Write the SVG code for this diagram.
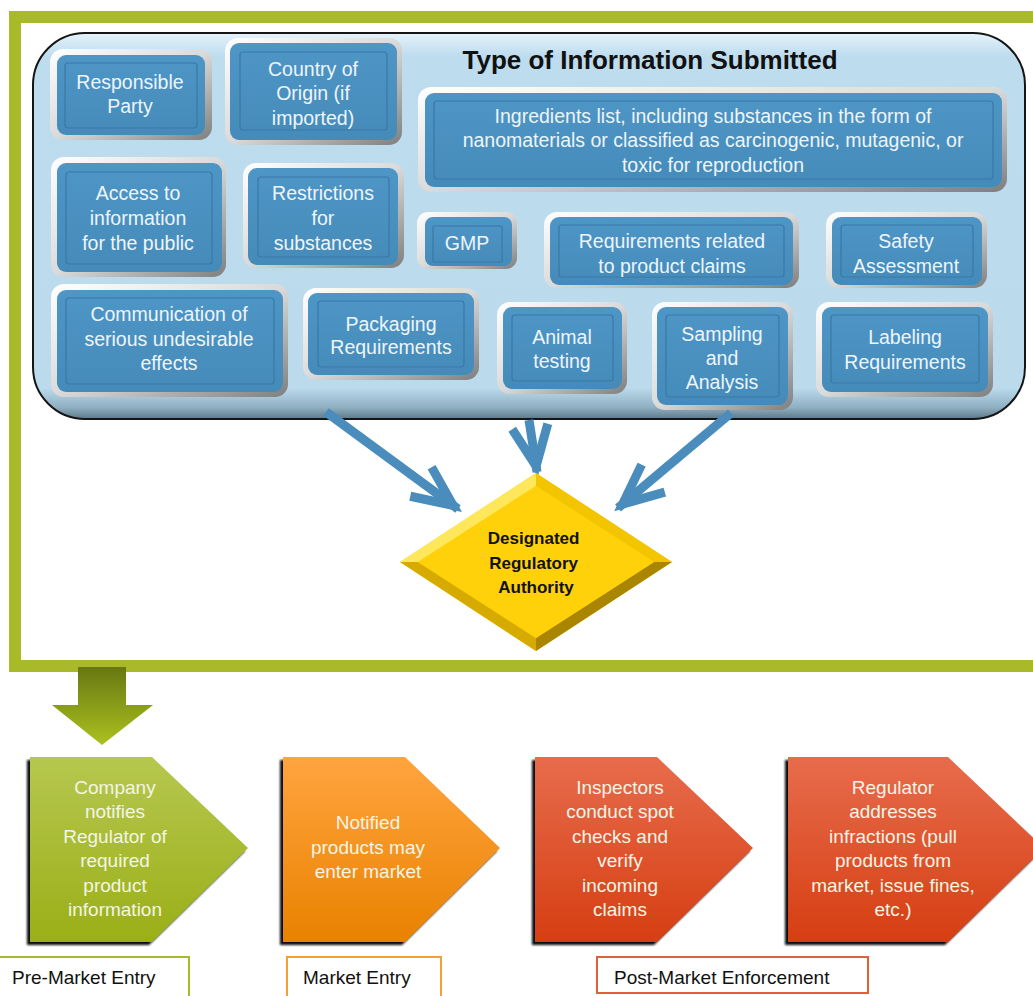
<svg xmlns="http://www.w3.org/2000/svg" width="1033" height="996" viewBox="0 0 1033 996">
<defs>
<linearGradient id="panel" x1="0" y1="0" x2="0" y2="1">
<stop offset="0" stop-color="#E6F3FB"/><stop offset="0.06" stop-color="#BDDCEE"/><stop offset="0.92" stop-color="#BBDBED"/><stop offset="0.97" stop-color="#8FB0C2"/><stop offset="1" stop-color="#5D7888"/>
</linearGradient>
<linearGradient id="silver" x1="0" y1="0" x2="1" y2="1">
<stop offset="0" stop-color="#FFFFFF"/><stop offset="0.5" stop-color="#DADADA"/><stop offset="1" stop-color="#7F7F7F"/>
</linearGradient>
<linearGradient id="blue" x1="0" y1="0" x2="0" y2="1">
<stop offset="0" stop-color="#4E96C6"/><stop offset="1" stop-color="#458BBA"/>
</linearGradient>
<linearGradient id="garrow" x1="0" y1="0" x2="0" y2="1">
<stop offset="0" stop-color="#687812"/><stop offset="1" stop-color="#ABC11F"/>
</linearGradient>
<linearGradient id="gGreen" x1="0" y1="0" x2="0" y2="1">
<stop offset="0" stop-color="#B6C74F"/><stop offset="1" stop-color="#9AAF17"/>
</linearGradient>
<linearGradient id="gOrange" x1="0" y1="0" x2="0" y2="1">
<stop offset="0" stop-color="#FFA43F"/><stop offset="1" stop-color="#E98200"/>
</linearGradient>
<linearGradient id="gRed" x1="0" y1="0" x2="0" y2="1">
<stop offset="0" stop-color="#E76C4C"/><stop offset="1" stop-color="#D63E12"/>
</linearGradient>
<filter id="blur" x="-10%" y="-10%" width="120%" height="120%"><feGaussianBlur stdDeviation="1.2"/></filter>
<marker id="ah" markerUnits="userSpaceOnUse" markerWidth="60" markerHeight="60" viewBox="-50 -30 60 60" refX="0" refY="0" orient="auto" overflow="visible">
<path d="M-46,-18 L-6,0 L-46,18" fill="none" stroke="#4A8CBC" stroke-width="9" stroke-linejoin="miter"/>
</marker>
</defs>
<style>
.sv{fill:url(#silver);}
.bl{fill:url(#blue);}
.ln{fill:none;stroke:#3A78A6;stroke-width:1.2;}
.bt{font-family:"Liberation Sans",Arial,sans-serif;font-size:19.5px;fill:#EEF5FA;text-anchor:middle;}
.ct{font-family:"Liberation Sans",Arial,sans-serif;font-size:19px;fill:#F3F5E6;text-anchor:middle;}
.lt{font-family:"Liberation Sans",Arial,sans-serif;font-size:19px;fill:#111;}
.sh{fill:#111;filter:url(#blur);}
.conn{fill:none;stroke:#4A8CBC;stroke-width:9;marker-end:url(#ah);}
</style>
<rect width="1033" height="996" fill="#FFFFFF"/>

<g id="frame">
<rect x="15" y="17" width="1030" height="649" fill="none" stroke="#A8B92A" stroke-width="12"/>
</g>

<g id="panel-info">
<rect x="33" y="33" width="992" height="386" rx="52" fill="url(#panel)" stroke="#151515" stroke-width="2"/>
<text x="650" y="69" font-family="'Liberation Sans',Arial,sans-serif" font-size="26" font-weight="bold" fill="#111" text-anchor="middle">Type of Information Submitted</text>
</g>

<g id="n-responsible">
<rect class="sv" x="50" y="49" width="162" height="91" rx="13"/>
<rect class="bl" x="57" y="55" width="148" height="80" rx="9"/>
<rect class="ln" x="65" y="63" width="132" height="65" rx="3"/>
<text class="bt" x="130" y="89">Responsible</text>
<text class="bt" x="130" y="113">Party</text>
</g>

<g id="n-country">
<rect class="sv" x="225" y="38" width="177" height="107" rx="13"/>
<rect class="bl" x="230" y="43" width="167" height="97" rx="9"/>
<rect class="ln" x="240" y="52" width="147" height="78" rx="3"/>
<text class="bt" x="313" y="76">Country of</text>
<text class="bt" x="313" y="100">Origin (if</text>
<text class="bt" x="313" y="125">imported)</text>
</g>

<g id="n-ingredients">
<rect class="sv" x="418" y="87" width="589" height="105" rx="13"/>
<rect class="bl" x="425" y="93" width="577" height="94" rx="9"/>
<rect class="ln" x="434" y="101" width="559" height="78" rx="3"/>
<text class="bt" x="713" y="123">Ingredients list, including substances in the form of</text>
<text class="bt" x="713" y="147">nanomaterials or classified as carcinogenic, mutagenic, or</text>
<text class="bt" x="713" y="172">toxic for reproduction</text>
</g>

<g id="n-access">
<rect class="sv" x="51" y="157" width="175" height="120" rx="13"/>
<rect class="bl" x="57" y="163" width="165" height="109" rx="9"/>
<rect class="ln" x="66" y="172" width="146" height="92" rx="3"/>
<text class="bt" x="138" y="200">Access to</text>
<text class="bt" x="138" y="225">information</text>
<text class="bt" x="138" y="250">for the public</text>
</g>

<g id="n-restrictions">
<rect class="sv" x="243" y="163" width="161" height="105" rx="13"/>
<rect class="bl" x="248" y="168" width="150" height="97" rx="9"/>
<rect class="ln" x="258" y="177" width="131" height="80" rx="3"/>
<text class="bt" x="323" y="200">Restrictions</text>
<text class="bt" x="323" y="225">for</text>
<text class="bt" x="323" y="250">substances</text>
</g>

<g id="n-gmp">
<rect class="sv" x="417" y="212" width="100" height="57" rx="11"/>
<rect class="bl" x="425" y="217" width="87" height="49" rx="8"/>
<rect class="ln" x="433" y="226" width="69" height="36" rx="1"/>
<text class="bt" x="467" y="250">GMP</text>
</g>

<g id="n-claims">
<rect class="sv" x="544" y="212" width="255" height="76" rx="13"/>
<rect class="bl" x="550" y="217" width="243" height="68" rx="9"/>
<rect class="ln" x="559" y="225" width="225" height="52" rx="3"/>
<text class="bt" x="672" y="248">Requirements related</text>
<text class="bt" x="672" y="273">to product claims</text>
</g>

<g id="n-safety">
<rect class="sv" x="826" y="212" width="161" height="76" rx="13"/>
<rect class="bl" x="832" y="217" width="150" height="68" rx="9"/>
<rect class="ln" x="841" y="225" width="132" height="52" rx="3"/>
<text class="bt" x="906" y="248">Safety</text>
<text class="bt" x="906" y="273">Assessment</text>
</g>

<g id="n-communication">
<rect class="sv" x="51" y="284" width="237" height="113" rx="13"/>
<rect class="bl" x="57" y="290" width="226" height="102" rx="9"/>
<rect class="ln" x="66" y="298" width="208" height="86" rx="3"/>
<text class="bt" x="169" y="321">Communication of</text>
<text class="bt" x="169" y="346">serious undesirable</text>
<text class="bt" x="169" y="370">effects</text>
</g>

<g id="n-packaging">
<rect class="sv" x="303" y="288" width="176" height="92" rx="13"/>
<rect class="bl" x="308" y="293" width="166" height="82" rx="9"/>
<rect class="ln" x="318" y="301" width="146" height="66" rx="3"/>
<text class="bt" x="391" y="331">Packaging</text>
<text class="bt" x="391" y="354">Requirements</text>
</g>

<g id="n-animal">
<rect class="sv" x="497" y="302" width="130" height="92" rx="13"/>
<rect class="bl" x="503" y="307" width="119" height="82" rx="9"/>
<rect class="ln" x="512" y="315" width="101" height="66" rx="3"/>
<text class="bt" x="562" y="344">Animal</text>
<text class="bt" x="562" y="368">testing</text>
</g>

<g id="n-sampling">
<rect class="sv" x="652" y="302" width="141" height="108" rx="13"/>
<rect class="bl" x="657" y="307" width="131" height="98" rx="9"/>
<rect class="ln" x="666" y="315" width="113" height="82" rx="3"/>
<text class="bt" x="722" y="341">Sampling</text>
<text class="bt" x="722" y="365">and</text>
<text class="bt" x="722" y="389">Analysis</text>
</g>

<g id="n-labeling">
<rect class="sv" x="816" y="302" width="177" height="95" rx="13"/>
<rect class="bl" x="822" y="307" width="166" height="85" rx="9"/>
<rect class="ln" x="831" y="315" width="148" height="68" rx="3"/>
<text class="bt" x="905" y="344">Labeling</text>
<text class="bt" x="905" y="369">Requirements</text>
</g>

<g id="connectors">
<path class="conn" d="M326,412 L458,509"/>
<path class="conn" d="M529,420 L537,472"/>
<path class="conn" d="M731,413 L618,508"/>
<polygon points="78,667 126,667 126,705 153,705 102,745 52,705 78,705" fill="url(#garrow)"/>
</g>

<g id="n-authority">
<polygon points="536,473 672,562 536,651 400,562" fill="#FFD10A"/>
<polygon points="536,473 400,562 418,562 536,486" fill="#FFE75C"/>
<polygon points="536,473 672,562 654,562 536,486" fill="#F2C500"/>
<polygon points="672,562 536,651 536,638 654,562" fill="#A98500"/>
<polygon points="400,562 536,651 536,638 418,562" fill="#D7AA00"/>
<polygon points="536,486 654,562 536,638 418,562" fill="#FFD10A"/>
<text font-family="'Liberation Sans',Arial,sans-serif" font-size="17" font-weight="bold" fill="#111" text-anchor="middle">
<tspan x="536" y="544">Designated</tspan>
<tspan x="536" y="569">Regulatory</tspan>
<tspan x="536" y="593">Authority</tspan>
</text>
</g>

<g id="n-company">
<path class="sh" d="M27,760 L149,760 L245,851 L149,945 L27,945 Z"/>
<path d="M30,757 L152,757 L248,848 L152,942 L30,942 Z" fill="url(#gGreen)"/>
<text class="ct" x="115" y="794">Company</text>
<text class="ct" x="115" y="818">notifies</text>
<text class="ct" x="115" y="843">Regulator of</text>
<text class="ct" x="115" y="867">required</text>
<text class="ct" x="115" y="892">product</text>
<text class="ct" x="115" y="916">information</text>
</g>

<g id="n-notified">
<path class="sh" d="M280,760 L402,760 L497,851 L402,945 L280,945 Z"/>
<path d="M283,757 L405,757 L500,848 L405,942 L283,942 Z" fill="url(#gOrange)"/>
<text class="ct" x="368" y="829">Notified</text>
<text class="ct" x="368" y="854">products may</text>
<text class="ct" x="368" y="878">enter market</text>
</g>

<g id="n-inspectors">
<path class="sh" d="M532,760 L654,760 L750,851 L654,945 L532,945 Z"/>
<path d="M535,757 L657,757 L753,848 L657,942 L535,942 Z" fill="url(#gRed)"/>
<text class="ct" x="620" y="794">Inspectors</text>
<text class="ct" x="620" y="818">conduct spot</text>
<text class="ct" x="620" y="843">checks and</text>
<text class="ct" x="620" y="867">verify</text>
<text class="ct" x="620" y="892">incoming</text>
<text class="ct" x="620" y="916">claims</text>
</g>

<g id="n-regulator">
<path class="sh" d="M785,760 L945,760 L1041,851 L945,945 L785,945 Z"/>
<path d="M788,757 L948,757 L1044,848 L948,942 L788,942 Z" fill="url(#gRed)"/>
<text class="ct" x="893" y="794">Regulator</text>
<text class="ct" x="893" y="818">addresses</text>
<text class="ct" x="893" y="843">infractions (pull</text>
<text class="ct" x="893" y="867">products from</text>
<text class="ct" x="893" y="892">market, issue fines,</text>
<text class="ct" x="893" y="916">etc.)</text>
</g>

<g id="l-pre">
<rect x="-2" y="957" width="191" height="45" fill="#FFFFFF" stroke="#A8B92A" stroke-width="2"/>
<text class="lt" x="12" y="984">Pre-Market Entry</text>
</g>
<g id="l-market">
<rect x="287" y="957" width="154" height="45" fill="#FFFFFF" stroke="#F7A030" stroke-width="2"/>
<text class="lt" x="303" y="984">Market Entry</text>
</g>
<g id="l-post">
<rect x="597" y="957" width="271" height="36" fill="#FFFFFF" stroke="#E0603A" stroke-width="2"/>
<text class="lt" x="614" y="984">Post-Market Enforcement</text>
</g>
</svg>
